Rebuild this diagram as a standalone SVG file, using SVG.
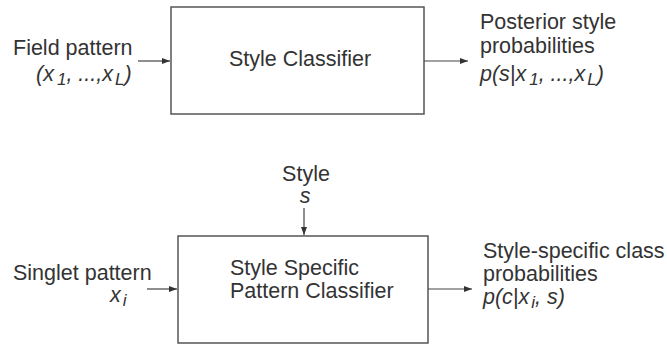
<svg xmlns="http://www.w3.org/2000/svg" width="667" height="346" viewBox="0 0 667 346">
<defs>
<marker id="ah" markerWidth="8" markerHeight="6" refX="8" refY="3" orient="auto" markerUnits="userSpaceOnUse">
<path d="M0,0 L8,3 L0,6 Z" fill="#333"/>
</marker>
<style>
text{font-family:"Liberation Sans",Arial,sans-serif;font-size:21.5px;fill:#333}
.i{font-style:italic}
.sub{font-size:17px}
.box{fill:#fff;stroke:#555;stroke-width:1.5}
.ln{stroke:#444;stroke-width:1.2;fill:none;marker-end:url(#ah)}
</style>
</defs>
<rect width="667" height="346" fill="#fff"/>
<g id="style-classifier">
<rect class="box" x="171" y="7" width="253" height="107"/>
<text x="229" y="66">Style Classifier</text>
</g>
<g id="field-pattern">
<text x="13" y="55">Field pattern</text>
<text class="i" x="36" y="81">(x<tspan class="sub" dy="4" dx="3">1</tspan><tspan dy="-4">, ...,x</tspan><tspan class="sub" dy="4" dx="2">L</tspan><tspan dy="-4">)</tspan></text>
</g>
<g id="posterior">
<text x="480" y="29">Posterior style</text>
<text x="480" y="53">probabilities</text>
<text class="i" x="480" y="81">p(s|x<tspan class="sub" dy="4" dx="3">1</tspan><tspan dy="-4">, ...,x</tspan><tspan class="sub" dy="4" dx="2">L</tspan><tspan dy="-4">)</tspan></text>
</g>
<g id="style-input">
<text x="306" y="181" text-anchor="middle">Style</text>
<text class="i" x="305" y="203" text-anchor="middle">s</text>
</g>
<g id="style-specific-classifier">
<rect class="box" x="178" y="236" width="250" height="107"/>
<text x="230" y="275">Style Specific</text>
<text x="230" y="298">Pattern Classifier</text>
</g>
<g id="singlet-pattern">
<text x="13" y="280">Singlet pattern</text>
<text class="i" x="110" y="302">x<tspan class="sub" dy="4" dx="2">i</tspan></text>
</g>
<g id="style-specific-probs">
<text x="483" y="258">Style-specific class</text>
<text x="483" y="281">probabilities</text>
<text class="i" x="483" y="304">p(c|x<tspan class="sub" dy="4" dx="2">i</tspan><tspan dy="-4">, s)</tspan></text>
</g>
<g id="connectors">
<line class="ln" x1="138" y1="61" x2="170" y2="61"/>
<line class="ln" x1="424" y1="61" x2="468" y2="61"/>
<line class="ln" x1="304" y1="208" x2="304" y2="235"/>
<line class="ln" x1="147" y1="289" x2="177" y2="289"/>
<line class="ln" x1="428" y1="289" x2="472" y2="289"/>
</g>
</svg>
